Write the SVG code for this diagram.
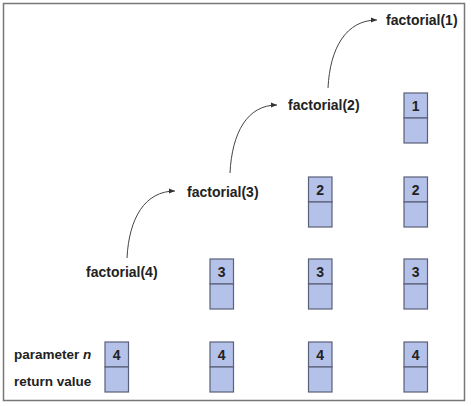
<svg xmlns="http://www.w3.org/2000/svg" width="471" height="406" viewBox="0 0 471 406">
<style>
.lbl{font-family:"Liberation Sans",Arial,sans-serif;font-weight:bold;font-size:14px;fill:#222}
.side{font-family:"Liberation Sans",Arial,sans-serif;font-weight:bold;font-size:13.5px;fill:#222}
.num{font-family:"Liberation Sans",Arial,sans-serif;font-weight:bold;font-size:14px;fill:#222;text-anchor:middle}
.cell{fill:#b4c1e9;stroke:#5a6078;stroke-width:1.2}
.arc{fill:none;stroke:#444;stroke-width:1}
</style>
<defs>
<marker id="ah" viewBox="0 0 10 10" refX="10" refY="5" markerWidth="8" markerHeight="6" orient="auto" markerUnits="userSpaceOnUse">
<path d="M0,1 L10,5 L0,9 z" fill="#333"/>
</marker>
</defs>
<rect x="3.5" y="3.5" width="461" height="397" fill="#fff" stroke="#777" stroke-width="1.5"/>
<g id="labels">
<text class="side" x="14" y="359">parameter <tspan font-style="italic">n</tspan></text>
<text class="side" x="14" y="385.5">return value</text>
</g>
<g id="call4"><text class="lbl" x="86" y="277">factorial(4)</text></g>
<g id="call3"><text class="lbl" x="187" y="197">factorial(3)</text></g>
<g id="call2"><text class="lbl" x="288" y="110">factorial(2)</text></g>
<g id="call1"><text class="lbl" x="386" y="25">factorial(1)</text></g>
<g id="connectors">
<path class="arc" d="M127,258 C129,218 145,191 175,191" marker-end="url(#ah)"/>
<path class="arc" d="M230,173 C232,133 247,105 277,105" marker-end="url(#ah)"/>
<path class="arc" d="M328,88 C330,48 346,20 377,20" marker-end="url(#ah)"/>
</g>
<g id="col1">
<rect class="cell" x="105" y="342" width="23.5" height="25"/><rect class="cell" x="105" y="367" width="23.5" height="25"/><text class="num" x="116.75" y="360">4</text>
</g>
<g id="col2">
<rect class="cell" x="210" y="342" width="23.5" height="25"/><rect class="cell" x="210" y="367" width="23.5" height="25"/><text class="num" x="221.75" y="360">4</text>
<rect class="cell" x="210" y="259" width="23.5" height="25"/><rect class="cell" x="210" y="284" width="23.5" height="25"/><text class="num" x="221.75" y="277">3</text>
</g>
<g id="col3">
<rect class="cell" x="308.5" y="342" width="23.5" height="25"/><rect class="cell" x="308.5" y="367" width="23.5" height="25"/><text class="num" x="320.25" y="360">4</text>
<rect class="cell" x="308.5" y="259" width="23.5" height="25"/><rect class="cell" x="308.5" y="284" width="23.5" height="25"/><text class="num" x="320.25" y="277">3</text>
<rect class="cell" x="308.5" y="177" width="23.5" height="25"/><rect class="cell" x="308.5" y="202" width="23.5" height="25"/><text class="num" x="320.25" y="195">2</text>
</g>
<g id="col4">
<rect class="cell" x="404" y="342" width="23.5" height="25"/><rect class="cell" x="404" y="367" width="23.5" height="25"/><text class="num" x="415.75" y="360">4</text>
<rect class="cell" x="404" y="259" width="23.5" height="25"/><rect class="cell" x="404" y="284" width="23.5" height="25"/><text class="num" x="415.75" y="277">3</text>
<rect class="cell" x="404" y="177" width="23.5" height="25"/><rect class="cell" x="404" y="202" width="23.5" height="25"/><text class="num" x="415.75" y="195">2</text>
<rect class="cell" x="404" y="93" width="23.5" height="25"/><rect class="cell" x="404" y="118" width="23.5" height="25"/><text class="num" x="415.75" y="111">1</text>
</g>
</svg>
